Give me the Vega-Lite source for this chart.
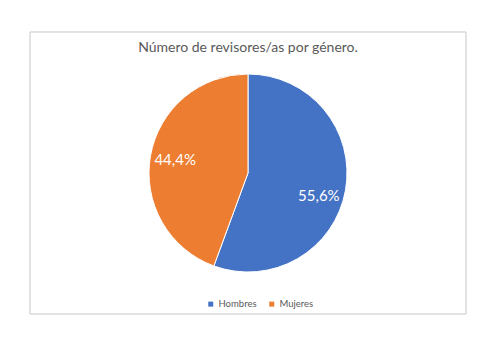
{
  "$schema": "https://vega.github.io/schema/vega-lite/v6.json",
  "autosize": {"type": "none"},
  "padding": {"left": 30, "top": 32, "right": 35, "bottom": 40},
  "width": 436,
  "height": 282,
  "background": "white",
  "config": {
    "view": {"stroke": null},
    "font": "Lato"
  },
  "title": {
    "text": "Número de revisores/as por género.",
    "anchor": "middle",
    "offset": -23,
    "fontSize": 14,
    "fontWeight": "normal",
    "color": "#595959",
    "font": "Lato"
  },
  "data": {
    "values": [
      {"genero": "Hombres", "pct": 55.6, "label": "55,6%"},
      {"genero": "Mujeres", "pct": 44.4, "label": "44,4%"}
    ]
  },
  "layer": [
    {
      "mark": {"type": "rect", "fill": null, "fillOpacity": 0, "stroke": "#d9d9d9", "strokeWidth": 1},
      "encoding": {}
    },
    {
      "mark": {"type": "arc", "radius": 99, "stroke": "white", "strokeWidth": 1},
      "encoding": {
        "theta": {"field": "pct", "type": "quantitative", "stack": true},
        "order": {"field": "genero", "type": "nominal"},
        "color": {
          "field": "genero",
          "type": "nominal",
          "scale": {"domain": ["Hombres", "Mujeres"], "range": ["#4472C4", "#ED7D31"]},
          "legend": {
            "title": null,
            "orient": "none",
            "direction": "horizontal",
            "legendX": 176,
            "legendY": 267,
            "symbolType": "square",
            "symbolSize": 25,
            "symbolStrokeWidth": 0,
            "labelFontSize": 9.5,
            "labelColor": "#595959",
            "labelFont": "Lato",
            "columnPadding": 10,
            "labelOffset": 3
          }
        }
      }
    },
    {
      "mark": {"type": "text", "radius": 74, "dy": 10, "dx": -2, "fontSize": 15, "color": "white", "font": "Lato"},
      "encoding": {
        "theta": {"field": "pct", "type": "quantitative", "stack": true},
        "order": {"field": "genero", "type": "nominal"},
        "text": {"field": "label", "type": "nominal"},
        "opacity": {"condition": {"test": "datum.genero === 'Hombres'", "value": 1}, "value": 0}
      }
    },
    {
      "mark": {"type": "text", "radius": 74, "fontSize": 15, "color": "white", "font": "Lato"},
      "encoding": {
        "theta": {"field": "pct", "type": "quantitative", "stack": true},
        "order": {"field": "genero", "type": "nominal"},
        "text": {"field": "label", "type": "nominal"},
        "opacity": {"condition": {"test": "datum.genero === 'Mujeres'", "value": 1}, "value": 0}
      }
    }
  ]
}
